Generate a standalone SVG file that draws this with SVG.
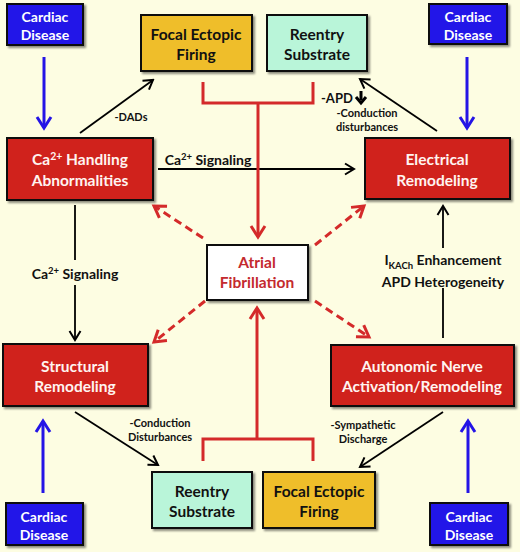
<svg xmlns="http://www.w3.org/2000/svg" width="520" height="552" viewBox="0 0 520 552">
<defs>
<filter id="sh" x="-10%" y="-10%" width="130%" height="140%">
<feDropShadow dx="2" dy="2" stdDeviation="1.2" flood-color="#000" flood-opacity="0.45"/>
</filter>
<marker id="ab" markerUnits="userSpaceOnUse" markerWidth="14" markerHeight="14" viewBox="0 0 14 14" refX="12" refY="7" orient="auto">
<path d="M3,1.5 L12,7 L3,12.5" fill="none" stroke="#000" stroke-width="2"/>
</marker>
<marker id="abl" markerUnits="userSpaceOnUse" markerWidth="18" markerHeight="18" viewBox="0 0 18 18" refX="15" refY="9" orient="auto">
<path d="M4,2 L15,9 L4,16" fill="none" stroke="#2414E6" stroke-width="3"/>
</marker>
<marker id="ar" markerUnits="userSpaceOnUse" markerWidth="18" markerHeight="18" viewBox="0 0 18 18" refX="15" refY="9" orient="auto">
<path d="M4,2 L15,9 L4,16" fill="none" stroke="#D42A2A" stroke-width="3"/>
</marker>
</defs>
<style>
text{font-family:Lato,"Open Sans","Liberation Sans",sans-serif;font-weight:bold;text-anchor:middle}
.box rect{stroke:#111;stroke-width:2;filter:url(#sh)}
.red rect{fill:#D0221E}
.red text{fill:#FFF4F0;font-size:15.5px}
.cd rect{fill:#2314E8}
.cd text{fill:#fff;font-size:14px}
.foc rect{fill:#EFBE2C}
.ree rect{fill:#B9F5D9}
.foc text,.ree text{fill:#111;font-size:15.5px}
.af rect{fill:#fff}
.af text{fill:#C42A2E;font-size:15.5px}
.lbl{fill:#111;font-size:14px}
.sm{fill:#111;font-size:11px}
.blk{stroke:#000;stroke-width:1.8;fill:none}
.blu{stroke:#2414E6;stroke-width:3;fill:none}
.rd{stroke:#D42A2A;stroke-width:3;fill:none}
.rdd{stroke:#D42A2A;stroke-width:3;fill:none;stroke-dasharray:8,5}
</style>
<rect width="520" height="552" fill="#FDFDE2"/>

<g id="connectors">
<line class="blu" x1="44" y1="57" x2="44" y2="128" marker-end="url(#abl)"/>
<line class="blu" x1="467" y1="57" x2="467" y2="128" marker-end="url(#abl)"/>
<line class="blu" x1="43" y1="493" x2="43" y2="421" marker-end="url(#abl)"/>
<line class="blu" x1="468" y1="493" x2="468" y2="421" marker-end="url(#abl)"/>
<line class="blk" x1="80" y1="133" x2="153" y2="80" marker-end="url(#ab)"/>
<line class="blk" x1="437" y1="131" x2="360" y2="79" marker-end="url(#ab)"/>
<line class="blk" x1="158" y1="169" x2="354" y2="169" marker-end="url(#ab)"/>
<line class="blk" x1="75" y1="205" x2="75" y2="260"/>
<line class="blk" x1="75" y1="285" x2="75" y2="340" marker-end="url(#ab)"/>
<line class="blk" x1="443" y1="248" x2="443" y2="206" marker-end="url(#ab)"/>
<line class="blk" x1="443" y1="338" x2="443" y2="288"/>
<line class="blk" x1="75" y1="412" x2="158" y2="465" marker-end="url(#ab)"/>
<line class="blk" x1="443" y1="412" x2="360" y2="467" marker-end="url(#ab)"/>
<path class="rd" d="M203,82 V103 H313 V82"/>
<line class="rd" x1="258" y1="103" x2="258" y2="237" marker-end="url(#ar)"/>
<path class="rd" d="M203,461 V439 H313 V461"/>
<line class="rd" x1="257" y1="439" x2="257" y2="308" marker-end="url(#ar)"/>
<line class="rdd" x1="203" y1="238" x2="154" y2="206" marker-end="url(#ar)"/>
<line class="rdd" x1="315" y1="245" x2="364" y2="206" marker-end="url(#ar)"/>
<line class="rdd" x1="205" y1="301" x2="154" y2="342" marker-end="url(#ar)"/>
<line class="rdd" x1="315" y1="301" x2="369" y2="337" marker-end="url(#ar)"/>
<path d="M361,91 V100" stroke="#000" stroke-width="3" fill="none"/>
<path d="M356,97 L361,103 L366,97" stroke="#000" stroke-width="3" fill="none"/>
</g>

<g id="labels">
<text class="sm" x="131" y="121">-DADs</text>
<text class="lbl" x="321" y="103" style="text-anchor:start;font-size:13px">-APD</text>
<text class="sm" x="367" y="117">-Conduction</text>
<text class="sm" x="367" y="131">disturbances</text>
<text class="lbl" x="208" y="165">Ca<tspan dy="-5" font-size="9.5">2+</tspan><tspan dy="5"> Signaling</tspan></text>
<text class="lbl" x="75" y="279">Ca<tspan dy="-5" font-size="9.5">2+</tspan><tspan dy="5"> Signaling</tspan></text>
<text class="lbl" x="443" y="265">I<tspan dy="4" font-size="9.5">KACh</tspan><tspan dy="-4"> Enhancement</tspan></text>
<text class="lbl" x="443" y="287">APD Heterogeneity</text>
<text class="sm" x="160" y="427">-Conduction</text>
<text class="sm" x="160" y="441">Disturbances</text>
<text class="sm" x="363" y="429">-Sympathetic</text>
<text class="sm" x="363" y="443">Discharge</text>
</g>

<g id="cd-tl" class="box cd"><rect x="7" y="4" width="76" height="41"/><text x="45" y="22">Cardiac</text><text x="45" y="40">Disease</text></g>
<g id="cd-tr" class="box cd"><rect x="429" y="4" width="78" height="40"/><text x="468" y="22">Cardiac</text><text x="468" y="40">Disease</text></g>
<g id="cd-bl" class="box cd"><rect x="6" y="503" width="77" height="42"/><text x="44" y="522">Cardiac</text><text x="44" y="540">Disease</text></g>
<g id="cd-br" class="box cd"><rect x="430" y="503" width="78" height="42"/><text x="469" y="522">Cardiac</text><text x="469" y="540">Disease</text></g>

<g id="focal-top" class="box foc"><rect x="141" y="15" width="111" height="56"/><text x="196" y="40">Focal Ectopic</text><text x="196" y="60">Firing</text></g>
<g id="reentry-top" class="box ree"><rect x="267" y="15" width="100" height="56"/><text x="317" y="40">Reentry</text><text x="317" y="60">Substrate</text></g>

<g id="ca-handling" class="box red"><rect x="7" y="138" width="146" height="62"/><text x="80" y="165">Ca<tspan dy="-5" font-size="10.5">2+</tspan><tspan dy="5"> Handling</tspan></text><text x="80" y="186">Abnormalities</text></g>
<g id="electrical" class="box red"><rect x="365" y="138" width="145" height="61"/><text x="437" y="165">Electrical</text><text x="437" y="186">Remodeling</text></g>

<g id="af" class="box af"><rect x="207" y="245" width="101" height="55"/><text x="257" y="268">Atrial</text><text x="257" y="288">Fibrillation</text></g>

<g id="structural" class="box red"><rect x="3" y="344" width="145" height="62"/><text x="75" y="372">Structural</text><text x="75" y="392">Remodeling</text></g>
<g id="autonomic" class="box red"><rect x="331" y="345" width="183" height="61"/><text x="422" y="372">Autonomic Nerve</text><text x="422" y="392">Activation/Remodeling</text></g>

<g id="reentry-bottom" class="box ree"><rect x="152" y="472" width="100" height="56"/><text x="202" y="497">Reentry</text><text x="202" y="517">Substrate</text></g>
<g id="focal-bottom" class="box foc"><rect x="263" y="472" width="112" height="56"/><text x="319" y="497">Focal Ectopic</text><text x="319" y="517">Firing</text></g>
</svg>
